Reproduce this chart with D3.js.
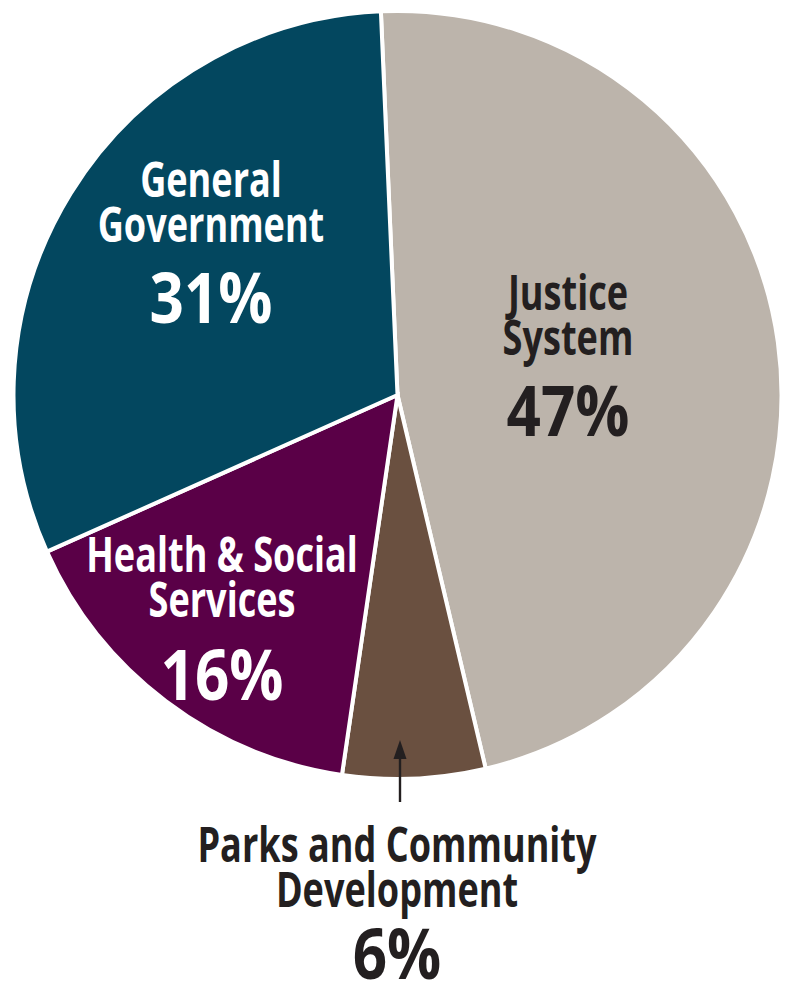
<!DOCTYPE html>
<html>
<head>
<meta charset="utf-8">
<script src="https://cdn.jsdelivr.net/npm/d3@7"></script>
<style>
  html, body { margin: 0; padding: 0; background: #ffffff; }
  svg { display: block; }
  text { font-family: "Open Sans", "DejaVu Sans", sans-serif; font-weight: 700; }
</style>
</head>
<body>
<svg id="chart" width="786" height="990"></svg>
<script>
// Budget shares by service area, clockwise from the top
const categories = ["Justice System", "Parks and Community Development", "Health & Social Services", "General Government"];
const shares = [47, 6, 16, 31];
const nameLines = [
  ["Justice", "System"],
  ["Parks and Community", "Development"],
  ["Health & Social", "Services"],
  ["General", "Government"]
];

// Presentation
const sliceColors = ["#bcb4ab", "#6a5040", "#5a0047", "#03475f"];
const textColors = ["#231f20", "#231f20", "#ffffff", "#ffffff"];
// label anchor (centre x, baseline of first line, baseline of percentage)
const labelLayout = [
  { x: 568, y: 310, py: 436 },
  { x: 397, y: 862, py: 979 },
  { x: 222, y: 572, py: 700 },
  { x: 211, y: 197, py: 323 }
];
const nameSize = 47.5, pctSize = 70, lineGap = 44.5;
const nameSqueeze = 0.76, pctSqueeze = 0.86;   // condensed look

const svg = d3.select("#chart");
const cx = 397.5, cy = 395, radius = 384;
const startOffset = -0.0433;

const pie = d3.pie()
  .sort(null)
  .value(d => d)
  .startAngle(startOffset)
  .endAngle(2 * Math.PI + startOffset);

const arc = d3.arc().innerRadius(0).outerRadius(radius);

const g = svg.append("g").attr("transform", `translate(${cx},${cy})`);

g.selectAll("path.slice")
  .data(pie(shares))
  .join("path")
  .attr("class", "slice")
  .attr("d", arc)
  .attr("fill", (d, i) => sliceColors[i])
  .attr("stroke", "#ffffff")
  .attr("stroke-width", 4)
  .attr("stroke-linejoin", "miter");

// Arrow pointing from the outside label into the narrow Parks slice
const arrowColor = "#231f20";
svg.append("line")
  .attr("x1", 400).attr("y1", 802)
  .attr("x2", 400).attr("y2", 752)
  .attr("stroke", arrowColor)
  .attr("stroke-width", 2.4);
svg.append("path")
  .attr("d", "M400,740 L406.5,759 L393.5,759 Z")
  .attr("fill", arrowColor);

// Labels
const labels = svg.selectAll("g.label")
  .data(categories)
  .join("g")
  .attr("class", "label");

function addText(sel, x, y, str, size, squeeze, color) {
  sel.append("text")
    .attr("transform", `translate(${x},${y}) scale(${squeeze},1)`)
    .attr("text-anchor", "middle")
    .attr("fill", color)
    .attr("font-size", size)
    .text(str);
}

labels.each(function (name, i) {
  const sel = d3.select(this);
  const L = labelLayout[i];
  nameLines[i].forEach((line, k) => {
    addText(sel, L.x, L.y + k * lineGap, line, nameSize, nameSqueeze, textColors[i]);
  });
  addText(sel, L.x, L.py, shares[i] + "%", pctSize, pctSqueeze, textColors[i]);
});
</script>
</body>
</html>
